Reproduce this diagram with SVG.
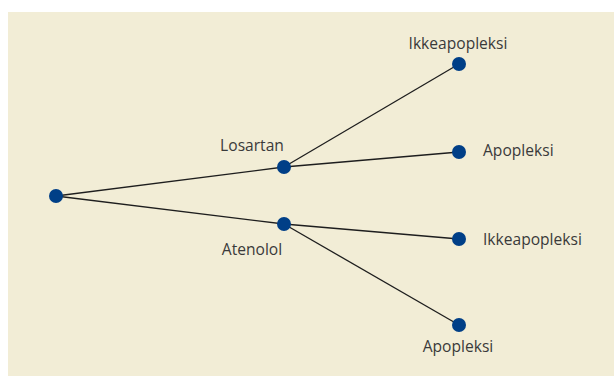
<svg xmlns="http://www.w3.org/2000/svg" width="614" height="376" viewBox="0 0 614 376">
<style>
.bg{fill:#f2edd6}
.edge{stroke:#1e1e1e;stroke-width:1.3;fill:none}
.dot{fill:#003f87}
.lbl{font-family:"Open Sans","Liberation Sans",sans-serif;font-size:15.6px;fill:#3a3a3a}
.c{text-anchor:middle}
</style>
<rect x="0" y="0" width="614" height="376" fill="#ffffff"/>
<rect class="bg" x="8" y="12" width="606" height="364"/>
<g id="connectors">
<line class="edge" x1="56" y1="196" x2="284" y2="167"/>
<line class="edge" x1="56" y1="196" x2="284" y2="224"/>
<line class="edge" x1="284" y1="167" x2="459" y2="64"/>
<line class="edge" x1="284" y1="167" x2="459" y2="152"/>
<line class="edge" x1="284" y1="224" x2="459" y2="239"/>
<line class="edge" x1="284" y1="224" x2="459" y2="325"/>
</g>
<g id="root"><circle class="dot" cx="56" cy="196" r="7"/></g>
<g id="losartan"><circle class="dot" cx="284" cy="167" r="7"/><text class="lbl c" x="252" y="151">Losartan</text></g>
<g id="atenolol"><circle class="dot" cx="284" cy="224" r="7"/><text class="lbl c" x="252" y="255">Atenolol</text></g>
<g id="los-ikke"><circle class="dot" cx="459" cy="64" r="7"/><text class="lbl c" x="458" y="49">Ikkeapopleksi</text></g>
<g id="los-apo"><circle class="dot" cx="459" cy="152" r="7"/><text class="lbl" x="483" y="156">Apopleksi</text></g>
<g id="ate-ikke"><circle class="dot" cx="459" cy="239" r="7"/><text class="lbl" x="483" y="245">Ikkeapopleksi</text></g>
<g id="ate-apo"><circle class="dot" cx="459" cy="325" r="7"/><text class="lbl c" x="458" y="352">Apopleksi</text></g>
</svg>
